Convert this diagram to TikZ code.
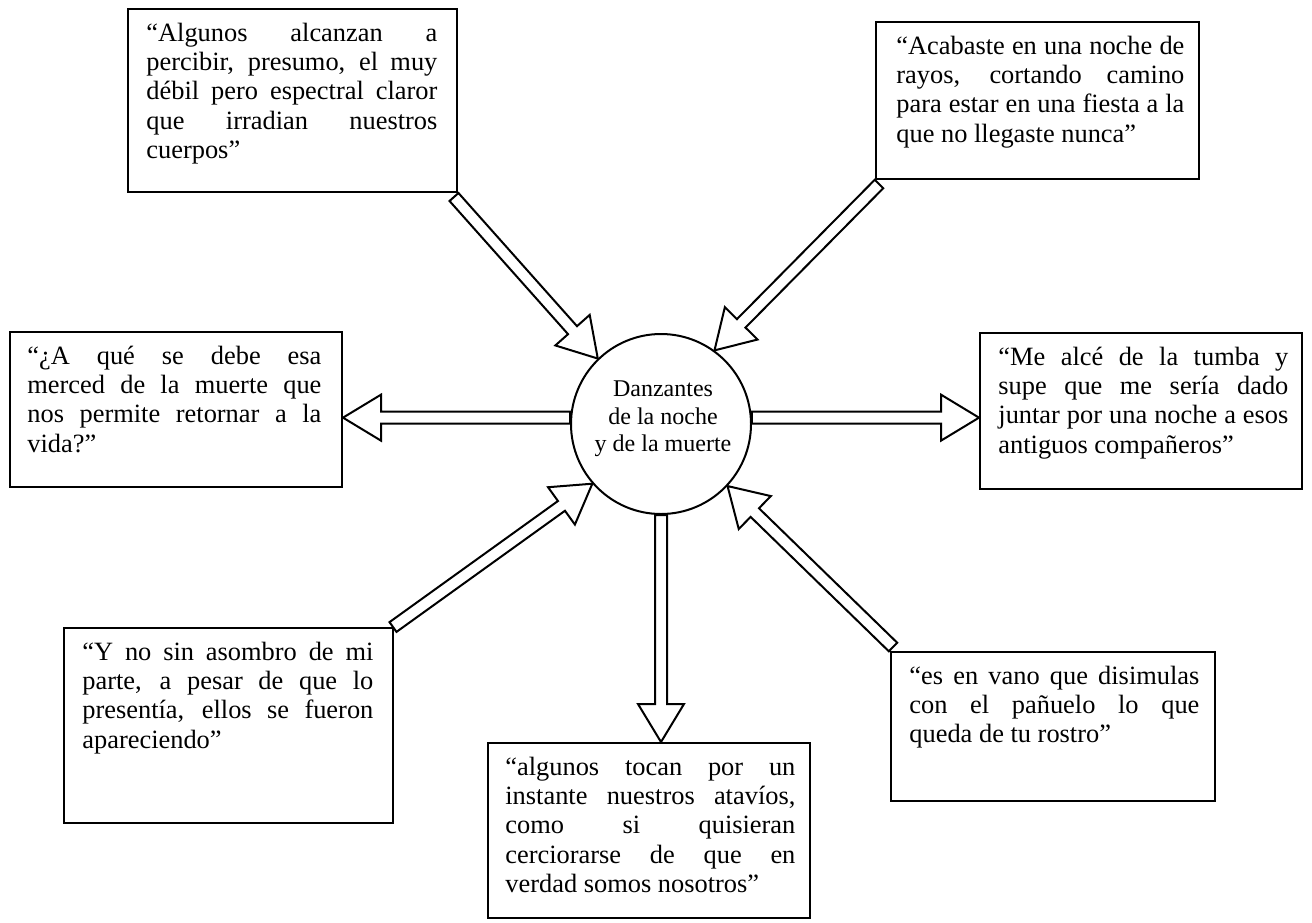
\documentclass[tikz,border=0pt]{standalone}
\usepackage{fontspec}
\setmainfont{Liberation Serif}
\usetikzlibrary{calc,fit}
\tolerance=10000 \hyphenpenalty=10000 \exhyphenpenalty=10000
\newcommand\blockarrow[3]{%
  \coordinate (#3) at ($(#2)!19pt!(#1)$);
  \draw[blockst] ($(#1)!3pt!90:(#2)$) -- ($(#3)!3pt!90:(#2)$) -- ($(#3)!11.5pt!90:(#2)$) -- (#2)
    -- ($(#3)!11.5pt!-90:(#2)$) -- ($(#3)!3pt!-90:(#2)$) -- ($(#1)!3pt!-90:(#2)$) -- cycle;}
\begin{document}
\begin{tikzpicture}[x=0.5pt,y=-0.5pt,
  frame/.style={draw, line width=1pt, inner sep=0pt},
  quote/.style={anchor=base west, inner sep=0pt, align=justify, font=\fontsize{13.2}{14.7}\selectfont},
  blockst/.style={draw, line width=1pt, line join=miter, fill=white}]
\useasboundingbox (0,0) rectangle (1312,922);

% boxes
\node[frame, fit={(128,9) (457,192)}] (b1) {};
\node[quote, text width=145.5pt] (t1) at ($(b1.north west)+(19,33)$) {“Algunos alcanzan a\linebreak percibir, presumo, el muy\linebreak débil pero espectral claror\linebreak que irradian nuestros\linebreak cuerpos”};

\node[frame, fit={(876,22) (1199,179)}] (b2) {};
\node[quote, text width=144pt] (t2) at ($(b2.north west)+(21,33)$) {“Acabaste en una noche de\linebreak rayos, cortando camino\linebreak para estar en una fiesta a la\linebreak que no llegaste nunca”};

\node[frame, fit={(10,332) (342,487)}] (b3) {};
\node[quote, text width=147pt] (t3) at ($(b3.north west)+(18,33)$) {“¿A qué se debe esa\linebreak merced de la muerte que\linebreak nos permite retornar a la\linebreak vida?”};

\node[frame, fit={(980,333) (1302,489)}] (b4) {};
\node[quote, text width=145pt] (t4) at ($(b4.north west)+(19,33)$) {“Me alcé de la tumba y\linebreak supe que me sería dado\linebreak juntar por una noche a esos\linebreak antiguos compañeros”};

\node[frame, fit={(64,628) (393,823)}] (b5) {};
\node[quote, text width=145.5pt] (t5) at ($(b5.north west)+(19,33)$) {“Y no sin asombro de mi\linebreak parte, a pesar de que lo\linebreak presentía, ellos se fueron\linebreak apareciendo”};

\node[frame, fit={(488,743) (810,918)}] (b6) {};
\node[quote, text width=145pt] (t6) at ($(b6.north west)+(18,33)$) {“algunos tocan por un\linebreak instante nuestros atavíos,\linebreak como si quisieran\linebreak cerciorarse de que en\linebreak verdad somos nosotros”};

\node[frame, fit={(891,652) (1215,801)}] (b7) {};
\node[quote, text width=145pt] (t7) at ($(b7.north west)+(19,33)$) {“es en vano que disimulas\linebreak con el pañuelo lo que\linebreak queda de tu rostro”};

% centre
\node[frame, circle, minimum size=90pt] (c) at (661,424) {};
\node[align=center, inner sep=0pt, font=\fontsize{12}{13.8}\selectfont] (ct) at (663,419) {Danzantes\\de la noche\\y de la muerte};

% arrows
\coordinate (a1s) at ($(b1.south east)+(-4,4)$);
\coordinate (a1e) at (c.134);
\blockarrow{a1s}{a1e}{a1h}
\coordinate (a2s) at ($(b2.south west)+(4,4)$);
\coordinate (a2e) at (c.54);
\blockarrow{a2s}{a2e}{a2h}
\coordinate (a5s) at ($(b5.north east)+(-1,0)$);
\coordinate (a5e) at (c.221);
\blockarrow{a5s}{a5e}{a5h}
\coordinate (a7s) at ($(b7.north west)+(3,-4)$);
\coordinate (a7e) at (c.317);
\blockarrow{a7s}{a7e}{a7h}
\coordinate (a3s) at (c.176);
\coordinate (a3e) at (c.176 -| b3.east);
\blockarrow{a3s}{a3e}{a3h}
\coordinate (a4s) at (c.4);
\coordinate (a4e) at (c.4 -| b4.west);
\blockarrow{a4s}{a4e}{a4h}
\coordinate (a6s) at (c.south);
\coordinate (a6e) at (c.south |- b6.north);
\blockarrow{a6s}{a6e}{a6h}
\end{tikzpicture}
\end{document}
